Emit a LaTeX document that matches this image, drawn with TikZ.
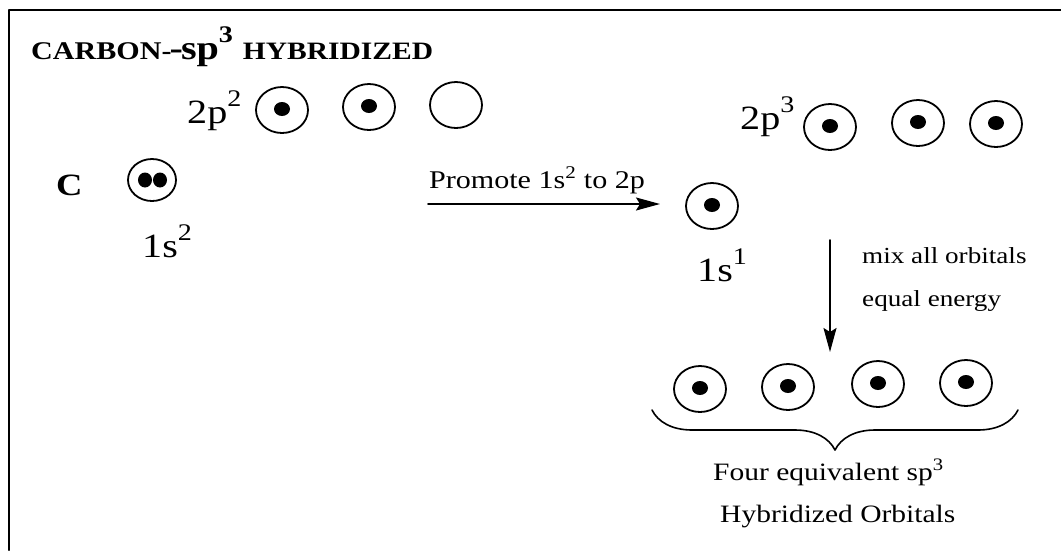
\documentclass[tikz,border=0pt]{standalone}
\usepackage{fontspec}
\setmainfont{Liberation Serif}[FakeStretch=1.18]
\usetikzlibrary{shapes.geometric,decorations.pathreplacing,arrows.meta}

\newcommand{\up}[1]{\raisebox{0.5em}{\scalebox{0.7}{#1}}}
\tikzset{
  orb/.style={draw, line width=1.8pt, ellipse, minimum width=52pt, minimum height=46pt, inner sep=0pt},
  shell/.style={inner sep=0pt, anchor=base west, font=\fontsize{34}{34}\selectfont},
  note/.style={inner sep=0pt, anchor=base west, font=\fontsize{23}{23}\selectfont},
}

\begin{document}
\begin{tikzpicture}[x=1pt, y=-1pt, line cap=round, line join=round, >={Stealth[length=24pt,width=13pt,inset=4pt]}]
\useasboundingbox (0,0) rectangle (1061,550);
% frame: only top and left edges
\draw[line width=2pt] (9,550) -- (9,10) -- (1061,10);
\node[inner sep=0pt, anchor=base west, font=\bfseries\fontsize{25.5}{25.5}\selectfont] (title) at (31,59)
  {CARBON-\kern-2pt{\fontsize{34}{34}\selectfont -\kern-2pt sp\up{3}\ }{\fontsize{25}{25}\selectfont HYBRIDIZED}};

% ground state
\node[inner sep=0pt, anchor=base west, font=\bfseries\fontsize{31}{31}\selectfont] (carbon) at (56,195) {C};
\node[orb, minimum width=48pt, minimum height=42pt] (s2) at (152,180) {};
\node[shell] (ls2) at (142,257) {1s\up{2}};
\node[shell] (lp2) at (187,123) {2p\up{2}};
\node[orb] (p2a) at (282,110) {};
\node[orb] (p2b) at (369,107) {};
\node[orb] (p2c) at (456,105) {};

% promotion
\coordinate (pa) at (428,204);
\coordinate (pb) at (660,204);
\draw[line width=1.6pt, ->] (pa) -- (pb);
\node[note, anchor=base, font=\fontsize{25.5}{25.5}\selectfont] (promote) at (537,188) {Promote 1s\textsuperscript{2} to 2p};

% excited state
\node[orb] (s1) at (712,206) {};
\node[shell] (ls1) at (697,281) {1s\up{1}};
\node[shell] (lp3) at (740,129) {2p\up{3}};
\node[orb] (p3a) at (830,127) {};
\node[orb] (p3b) at (918,123) {};
\node[orb] (p3c) at (996,124) {};

% mixing
\coordinate (ma) at (830,240);
\coordinate (mb) at (830,352);
\draw[line width=1.6pt, ->] (ma) -- (mb);
\node[note] (mix) at (862,263) {mix all orbitals};
\node[note] (equal) at (862,306) {equal energy};

% hybrid orbitals
\node[orb] (h1) at (700,389) {};
\node[orb] (h2) at (788,387) {};
\node[orb] (h3) at (878,384) {};
\node[orb] (h4) at (966,383) {};
\coordinate (bl) at (652,410);
\coordinate (br) at (1018,410);
\draw[line width=1.6pt, decorate, decoration={brace, mirror, amplitude=40pt}] (bl) -- (br);
\node[note, font=\fontsize{25}{25}\selectfont] (four) at (713,480) {Four equivalent sp\textsuperscript{3}};
\node[note, font=\fontsize{25}{25}\selectfont] (hyb) at (720,522) {Hybridized Orbitals};

% electrons
\foreach \o in {p2a,p2b,s1,p3a,p3b,p3c,h1,h2,h3,h4}
  \fill ([yshift=1pt]\o.center) ellipse (8pt and 7pt);
\fill ([xshift=-7pt]s2.center) ellipse (7pt and 7.5pt) ([xshift=8pt]s2.center) ellipse (7pt and 7.5pt);
\end{tikzpicture}
\end{document}
